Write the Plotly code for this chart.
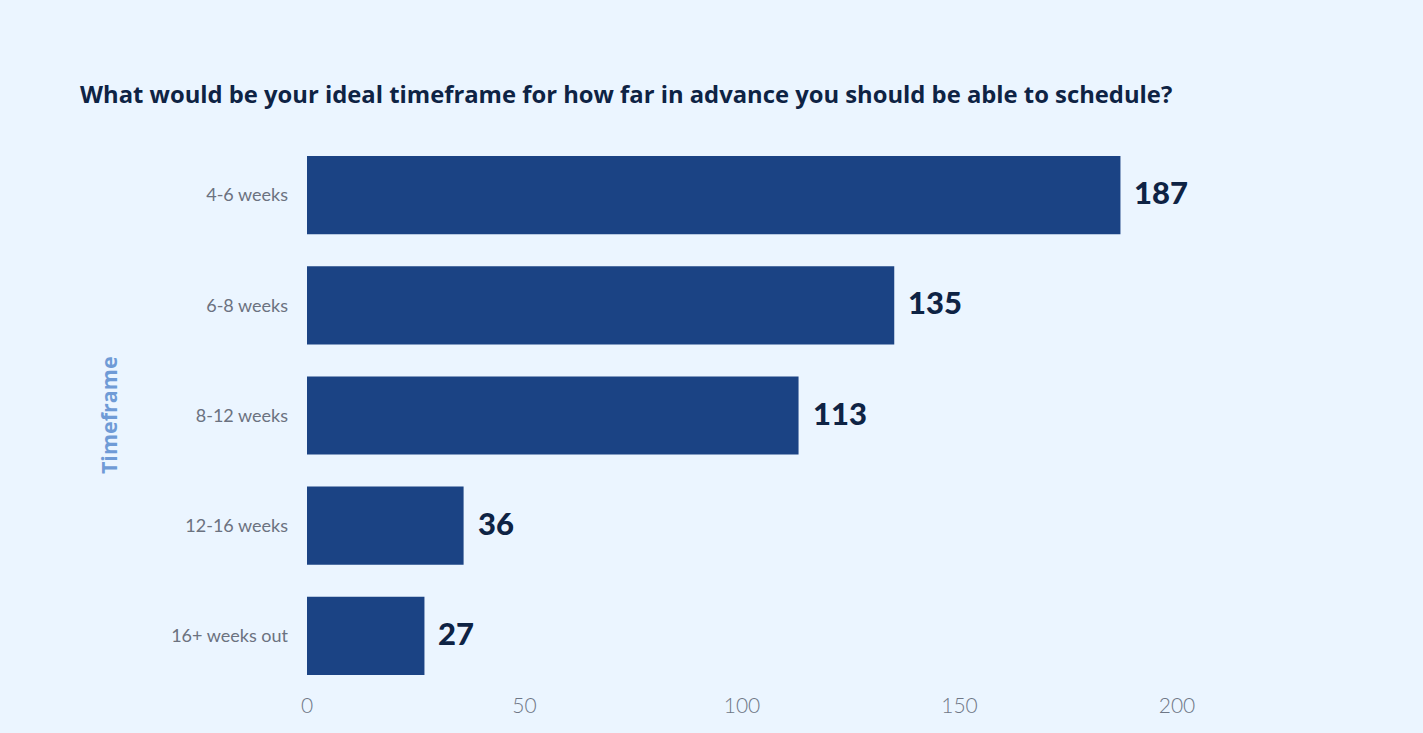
import plotly.graph_objects as go

categories = ["4-6 weeks", "6-8 weeks", "8-12 weeks", "12-16 weeks", "16+ weeks out"]
counts = [187, 135, 113, 36, 27]
x_ticks = [0, 50, 100, 150, 200]

BG = "#EBF5FF"
BAR = "#1B4384"
NAVY = "#0E2344"

fig = go.Figure()

fig.add_trace(go.Bar(
    x=counts,
    y=categories,
    orientation="h",
    marker=dict(color=BAR, line=dict(width=0)),
    hoverinfo="x+y",
))

# value labels to the right of each bar
for cat, val in zip(categories, counts):
    fig.add_annotation(
        x=val, y=cat, xref="x", yref="y",
        text=str(val), showarrow=False,
        xanchor="left", xshift=12, yshift=3,
        font=dict(family="Lato, Open Sans, sans-serif", size=31, color=NAVY, weight=900),
    )

# axis title
fig.add_annotation(
    x=-0.247, y=0.5, xref="paper", yref="paper",
    text="Timeframe", showarrow=False, textangle=-90,
    font=dict(family="Open Sans, Lato, sans-serif", size=21.5, color="#6F9BD6", weight=700),
)

fig.update_layout(
    width=1423,
    height=733,
    paper_bgcolor=BG,
    plot_bgcolor=BG,
    margin=dict(l=307, r=246, t=140, b=42),
    bargap=0.29,
    showlegend=False,
    title=dict(
        text="What would be your ideal timeframe for how far in advance you should be able to schedule?",
        x=80 / 1423, xanchor="left", xref="container",
        y=1 - 95 / 733, yanchor="middle", yref="container",
        font=dict(family="Open Sans, Lato, sans-serif", size=23.8, color=NAVY, weight=700),
    ),
    xaxis=dict(
        range=[0, 200],
        tickvals=x_ticks,
        showgrid=False,
        zeroline=False,
        showline=False,
        ticks="",
        ticklabelstandoff=0,
        tickfont=dict(family="Lato, Open Sans, sans-serif", size=21, color="#6F7786", weight=300),
    ),
    yaxis=dict(
        categoryorder="array",
        categoryarray=categories[::-1],
        showgrid=False,
        zeroline=False,
        showline=False,
        ticks="",
        ticklabelstandoff=18,
        tickfont=dict(family="Lato, Open Sans, sans-serif", size=18, color="#6B7280", weight=400),
    ),
)

fig.write_html("out.html", config={"displayModeBar": False},
               post_script="document.body.style.margin='0';")
